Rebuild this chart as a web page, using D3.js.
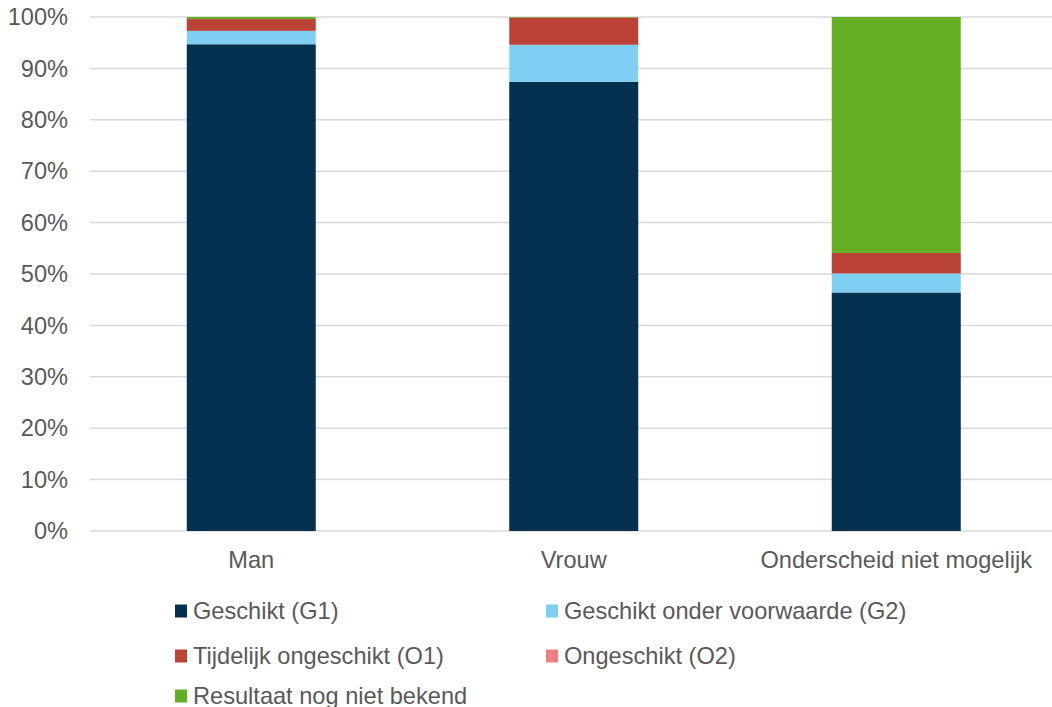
<!DOCTYPE html>
<html>
<head>
<meta charset="utf-8">
<script src="https://cdn.jsdelivr.net/npm/d3@7"></script>
<style>
  html, body { margin: 0; padding: 0; background: #fff; }
  svg { display: block; font-family: "Liberation Sans", Arial, sans-serif; }
</style>
</head>
<body>
<svg id="chart" width="1052" height="707"></svg>
<script>
const categories = ["Man", "Vrouw", "Onderscheid niet mogelijk"];
const seriesNames = ["Geschikt (G1)", "Geschikt onder voorwaarde (G2)", "Tijdelijk ongeschikt (O1)", "Ongeschikt (O2)", "Resultaat nog niet bekend"];
const G1 = [94.7, 87.4, 46.4];
const G2 = [2.6, 7.2, 3.7];
const O1 = [2.3, 5.3, 4.0];
const O2 = [0.0, 0.0, 0.0];
const onbekend = [0.4, 0.1, 45.9];
const tickValues = [0, 10, 20, 30, 40, 50, 60, 70, 80, 90, 100];
const colors = ["#03314f", "#7fcff3", "#bb4236", "#ef8080", "#63ae23"];

(function () {
const seriesValues = [G1, G2, O1, O2, onbekend];
const rows = categories.map((c, i) => {
  const r = { cat: c };
  seriesNames.forEach((s, j) => r[s] = seriesValues[j][i]);
  return r;
});

const svg = d3.select("#chart");
const mLeft = 90, mRight = 1057.5, mTop = 17, mBottom = 531;
const fs = 23.6;

const x = d3.scaleBand().domain(categories).range([mLeft, mRight]).paddingInner(0.6).paddingOuter(0.3);
const y = d3.scaleLinear().domain([0, 100]).range([mBottom, mTop]);

// gridlines
svg.append("g").selectAll("line").data(tickValues).join("line")
  .attr("x1", mLeft).attr("x2", 1052)
  .attr("y1", d => y(d)).attr("y2", d => y(d))
  .attr("stroke", "#d9d9d9").attr("stroke-width", 1.5);

// y tick labels
svg.append("g").selectAll("text").data(tickValues).join("text")
  .attr("x", 68).attr("y", d => y(d))
  .attr("dy", "0.35em").attr("text-anchor", "end")
  .attr("font-size", fs).attr("fill", "#595959")
  .text(d => d + "%");

// stacked bars
const stack = d3.stack().keys(seriesNames);
const stacked = stack(rows);
svg.append("g").selectAll("g").data(stacked).join("g")
  .attr("fill", (d, i) => colors[i])
  .selectAll("rect").data(d => d).join("rect")
  .attr("x", d => x(d.data.cat))
  .attr("width", x.bandwidth())
  .attr("y", d => y(d[1]))
  .attr("height", d => Math.max(0, y(d[0]) - y(d[1])));

// x labels
svg.append("g").selectAll("text").data(categories).join("text")
  .attr("x", d => x(d) + x.bandwidth() / 2).attr("y", 560)
  .attr("dy", "0.35em").attr("text-anchor", "middle")
  .attr("font-size", fs).attr("fill", "#595959")
  .text(d => d);

// legend
const legendPos = [
  { x: 175, y: 611 }, { x: 546, y: 611 },
  { x: 175, y: 656 }, { x: 546, y: 656 },
  { x: 175, y: 696 }
];
const lg = svg.append("g").selectAll("g").data(seriesNames).join("g")
  .attr("transform", (d, i) => `translate(${legendPos[i].x},${legendPos[i].y})`);
lg.append("rect").attr("x", 0).attr("y", -6.5).attr("width", 12).attr("height", 13)
  .attr("fill", (d, i) => colors[i]);
lg.append("text").attr("x", 18).attr("y", 0).attr("dy", "0.35em")
  .attr("font-size", fs).attr("fill", "#595959").text(d => d);
})();
</script>
</body>
</html>
